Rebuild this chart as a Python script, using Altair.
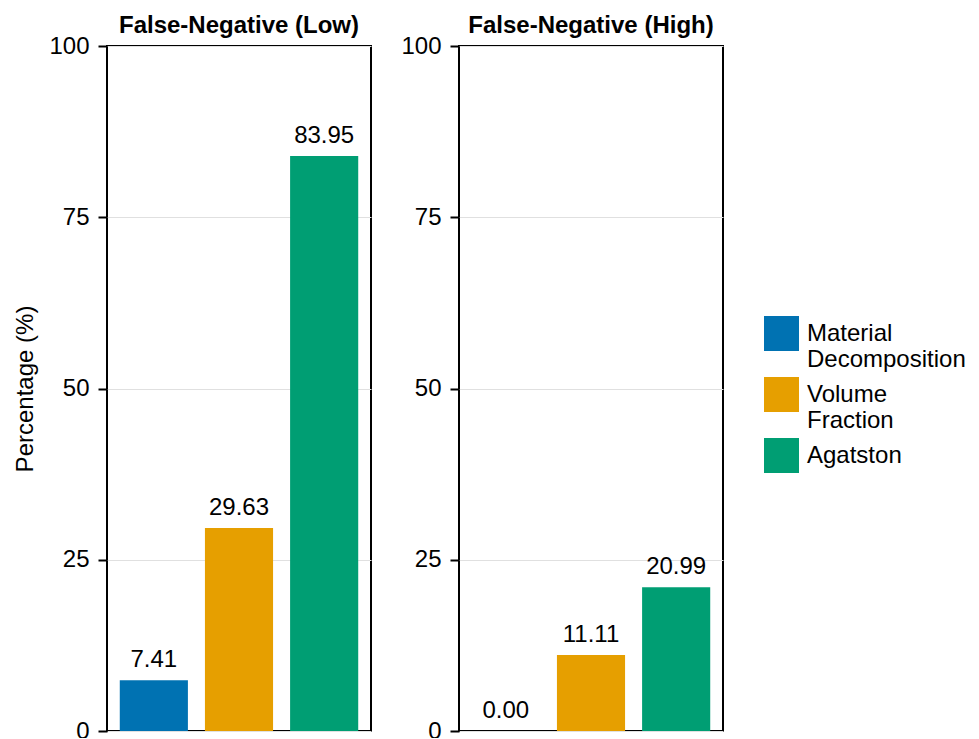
import altair as alt
import pandas as pd

panels = ["False-Negative (Low)", "False-Negative (High)"]
methods = ["Material Decomposition", "Volume Fraction", "Agatston"]
colors = ["#0072B2", "#E69F00", "#009E73"]
values_low = [7.41, 29.63, 83.95]
values_high = [0.00, 11.11, 20.99]
y_ticks = [0, 25, 50, 75, 100]

rows = []
for m, v in zip(methods, values_low):
    rows.append({"panel": panels[0], "method": m, "value": v})
for m, v in zip(methods, values_high):
    rows.append({"panel": panels[1], "method": m, "value": v})
df = pd.DataFrame(rows)

FONT = "Liberation Sans"
FS = 24
PL, PT = 12, 13


def make_panel(name, ytitle):
    base = alt.Chart(df).transform_filter(alt.datum.panel == name)
    x = alt.X("method:N", sort=methods, axis=None,
              scale=alt.Scale(paddingInner=0.2, paddingOuter=0.15))
    yaxis = alt.Axis(values=y_ticks, title=ytitle, grid=True, domain=False,
                     tickSize=9, tickWidth=2, tickColor="black",
                     labelFontSize=FS, labelPadding=9, labelColor="black",
                     titleFontSize=FS, titleFontWeight="normal", titlePadding=11,
                     titleColor="black", gridColor="#e0e0e0", gridWidth=1)
    y = alt.Y("value:Q", scale=alt.Scale(domain=[0, 100]), axis=yaxis)
    bars = base.mark_bar().encode(
        x=x, y=y,
        color=alt.Color("method:N", sort=methods,
                        scale=alt.Scale(domain=methods, range=colors),
                        legend=alt.Legend(title=None, orient="none",
                                          legendX=657, legendY=270,
                                          symbolType="square", symbolSize=1225,
                                          symbolStrokeWidth=0, labelFontSize=FS,
                                          labelOffset=8, rowPadding=5, padding=0,
                                          labelColor="black", labelLimit=300,
                                          labelExpr="split(datum.label, ' ')")),
    )
    text = base.mark_text(dy=-13, baseline="alphabetic", fontSize=FS, color="black").encode(
        x=x, y=y, text=alt.Text("value:Q", format=".2f"))
    return alt.layer(bars, text).properties(
        width=264, height=685,
        title=alt.TitleParams(name, fontSize=FS, fontWeight="bold", anchor="middle",
                              offset=-4, color="black"))


p1 = make_panel(panels[0], "Percentage (%)")
p2 = make_panel(panels[1], None)

chart = alt.hconcat(p1, p2, spacing=27).properties(
    padding={"left": PL, "top": PT, "right": 5, "bottom": -6}
).configure(font=FONT).configure_view(
    stroke="black", strokeWidth=2
)

chart.save("out.html", embed_options={"renderer": "svg", "actions": False})
